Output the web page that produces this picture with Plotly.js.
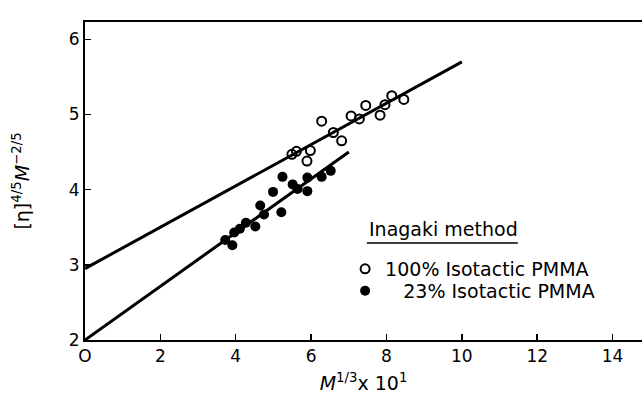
<!DOCTYPE html>
<html>
<head>
<meta charset="utf-8">
<script src="https://cdn.plot.ly/plotly-3.0.1.min.js"></script>
<style>html,body{margin:0;padding:0;background:#fff;}</style>
</head>
<body>
<div id="chart" style="width:642px;height:394px;"></div>
<script>
// Open circles: 100% isotactic PMMA
const isoX = [5.49, 5.61, 5.89, 5.98, 6.28, 6.59, 6.81, 7.06, 7.28, 7.45, 7.83, 7.96, 8.14, 8.46];
const isoY = [4.47, 4.51, 4.38, 4.52, 4.91, 4.76, 4.65, 4.98, 4.94, 5.12, 4.99, 5.13, 5.25, 5.20];
// Filled circles: 23% isotactic PMMA
const lowX = [3.72, 3.91, 3.96, 4.11, 4.27, 4.52, 4.65, 4.75, 4.99, 5.21, 5.24, 5.51, 5.64, 5.90, 5.90, 6.28, 6.52];
const lowY = [3.33, 3.26, 3.43, 3.48, 3.56, 3.51, 3.79, 3.67, 3.97, 3.70, 4.17, 4.07, 4.01, 4.16, 3.98, 4.17, 4.25];
// Fitted lines (end points)
const fitIsoX = [0, 10];
const fitIsoY = [2.95, 5.70];
const fitLowX = [0, 7];
const fitLowY = [2.00, 4.50];
// Ticks
const xTicks = [0, 2, 4, 6, 8, 10, 12, 14];
const xTickText = ['O', '2', '4', '6', '8', '10', '12', '14'];
const yTicks = [2, 3, 4, 5, 6];
const yTickText = ['2', '3', '4', '5', '6'];
const legendTitle = 'Inagaki method';
const name100 = '100% Isotactic PMMA';
const name23 = '\u2007\u00a023% Isotactic PMMA';

const FONT = 'DejaVu Sans, sans-serif';

const traces = [
  {x: fitIsoX, y: fitIsoY, mode: 'lines', line: {color: '#000', width: 3}, showlegend: false, hoverinfo: 'skip'},
  {x: fitLowX, y: fitLowY, mode: 'lines', line: {color: '#000', width: 3}, showlegend: false, hoverinfo: 'skip'},
  {x: isoX, y: isoY, mode: 'markers', name: name100, legend: 'legend',
   marker: {symbol: 'circle-open', size: 9, color: '#000', line: {width: 2, color: '#000'}}},
  {x: lowX, y: lowY, mode: 'markers', name: name23, legend: 'legend2',
   marker: {symbol: 'circle', size: 10, color: '#000'}}
];

const legendCommon = {xanchor: 'left', yanchor: 'top', bgcolor: 'rgba(0,0,0,0)',
  font: {family: FONT, size: 19, color: '#000'}, itemwidth: 30};

const layout = {
  width: 642, height: 394,
  margin: {l: 85, r: 0, t: 22, b: 54},
  paper_bgcolor: '#fff', plot_bgcolor: '#fff',
  font: {family: FONT, size: 16, color: '#000'},
  showlegend: true,
  legend: Object.assign({x: 0.467, y: 0.283}, legendCommon),
  legend2: Object.assign({x: 0.467, y: 0.214}, legendCommon),
  xaxis: {
    range: [0, 14.78], tickvals: xTicks, ticktext: xTickText,
    ticks: 'inside', ticklen: 6, tickwidth: 1.5, tickcolor: '#000',
    showline: true, linewidth: 2, linecolor: '#000', mirror: true,
    showgrid: false, zeroline: false, automargin: false,
    tickfont: {family: FONT, size: 17},
    title: {text: '<i>M</i><sup>1/3</sup>x 10<sup>1</sup>', font: {family: FONT, size: 19}, standoff: 12}
  },
  yaxis: {
    range: [2, 6.23], tickvals: yTicks, ticktext: yTickText,
    ticks: 'inside', ticklen: 6, tickwidth: 1.5, tickcolor: '#000',
    showline: true, linewidth: 2, linecolor: '#000', mirror: false,
    showgrid: false, zeroline: false, automargin: false,
    tickfont: {family: FONT, size: 17},
    title: {text: '[η]<sup>4/5</sup><i>M</i><sup>−2/5</sup>', font: {family: FONT, size: 19}, standoff: 34}
  },
  annotations: [
    {xref: 'paper', yref: 'paper', x: 0.506, y: 0.349, xanchor: 'left', yanchor: 'middle',
     text: legendTitle, showarrow: false, font: {family: FONT, size: 19, color: '#000'}}
  ],
  shapes: [
    {type: 'line', xref: 'paper', yref: 'paper', x0: 0.506, x1: 0.777, y0: 0.305, y1: 0.305,
     line: {color: '#000', width: 1.5}}
  ]
};

Plotly.newPlot('chart', traces, layout, {displayModeBar: false, staticPlot: true});
</script>
</body>
</html>
